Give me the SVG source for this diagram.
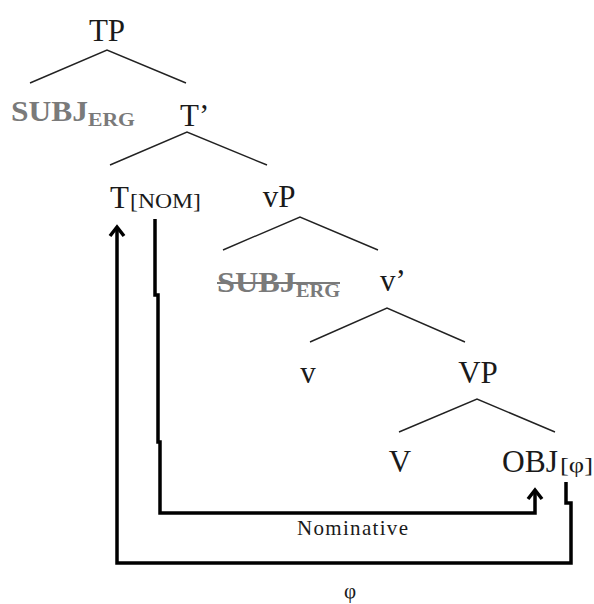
<svg xmlns="http://www.w3.org/2000/svg" width="594" height="604" viewBox="0 0 594 604">
<defs>
<style>
.lbl{font-family:"Liberation Serif","Times New Roman",serif;font-size:31px;fill:#1a1a1a}
.sub{font-family:"Liberation Serif","Times New Roman",serif;font-size:21px;fill:#1a1a1a}
.subj{font-family:"Liberation Serif","Times New Roman",serif;font-weight:bold;font-size:30px;fill:#7a7a7a}
.subjs{font-family:"Liberation Serif","Times New Roman",serif;font-weight:bold;font-size:19px;fill:#7a7a7a}
.small{font-family:"Liberation Serif","Times New Roman",serif;font-size:21px;fill:#1a1a1a}
.br{stroke:#222;stroke-width:1.4;fill:none}
.arr{stroke:#000;stroke-width:3.5;fill:none;stroke-linejoin:miter}
.head{stroke:#000;stroke-width:3.5;fill:none;stroke-linejoin:miter;stroke-linecap:butt}
</style>
</defs>
<rect width="594" height="604" fill="#fff"/>
<g id="TP"><text class="lbl" x="107" y="41" text-anchor="middle">TP</text></g>
<g id="SUBJ1"><text class="subj" x="11" y="121" textLength="77" lengthAdjust="spacingAndGlyphs">SUBJ</text><text class="subjs" x="88" y="126" textLength="47" lengthAdjust="spacingAndGlyphs">ERG</text></g>
<g id="Tbar"><text class="lbl" x="180" y="126">T’</text></g>
<g id="T"><text class="lbl" x="110" y="208">T</text><text class="sub" x="130" y="208" textLength="71" lengthAdjust="spacingAndGlyphs">[NOM]</text></g>
<g id="vP"><text class="lbl" x="279" y="207" text-anchor="middle">vP</text></g>
<g id="SUBJ2"><text class="subj" x="217" y="292" textLength="79" lengthAdjust="spacingAndGlyphs">SUBJ</text><text class="subjs" x="296" y="297" textLength="44" lengthAdjust="spacingAndGlyphs">ERG</text><line x1="217" y1="283" x2="340" y2="283" stroke="#7a7a7a" stroke-width="2"/></g>
<g id="vbar"><text class="lbl" x="380" y="291">v’</text></g>
<g id="v"><text class="lbl" x="308" y="383" text-anchor="middle">v</text></g>
<g id="VP"><text class="lbl" x="478" y="383" text-anchor="middle">VP</text></g>
<g id="V"><text class="lbl" x="400" y="472" text-anchor="middle">V</text></g>
<g id="OBJ"><text class="lbl" x="502" y="472" textLength="56" lengthAdjust="spacingAndGlyphs">OBJ</text><text class="sub" x="560" y="472" textLength="33" lengthAdjust="spacingAndGlyphs">[φ]</text></g>
<g id="connectors">
<polyline class="br" points="30,83 107,50 186,83"/>
<polyline class="br" points="110,165 187,132 267,165"/>
<polyline class="br" points="223,250 300,217 378,250"/>
<polyline class="br" points="310,342 387,308 465,342"/>
<polyline class="br" points="399,432 477,399 555,432"/>
<path class="arr" d="M155,219 V295 H158 V442 H160 V513 H535 V492"/>
<polyline class="head" points="528,499 535,490 542,499"/>
<path class="arr" d="M566,482 V503 H571 V563 H117 V229"/>
<polyline class="head" points="110,236 117,227 124,236"/>
</g>
<g id="labels">
<text class="small" x="297" y="535" textLength="111" lengthAdjust="spacing">Nominative</text>
<text class="small" x="350" y="598" text-anchor="middle" font-size="18">φ</text>
</g>
</svg>
